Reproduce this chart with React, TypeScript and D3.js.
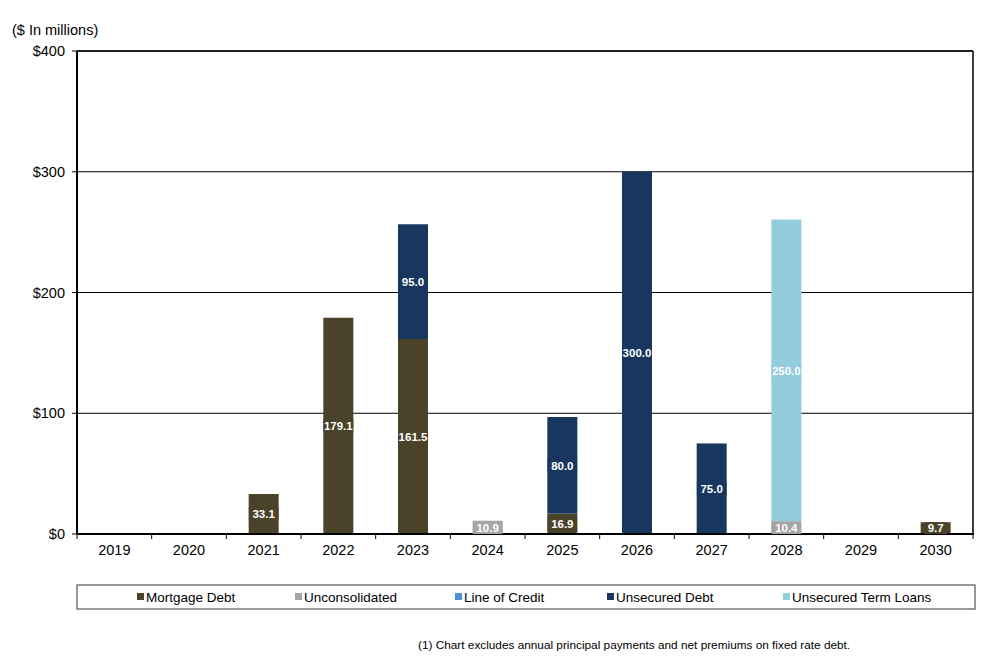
import React from "react";
import * as d3 from "d3";

const years = ["2019", "2020", "2021", "2022", "2023", "2024", "2025", "2026", "2027", "2028", "2029", "2030"];
const seriesNames = ["Mortgage Debt", "Unconsolidated", "Line of Credit", "Unsecured Debt", "Unsecured Term Loans"];
const seriesColors = ["#4a4229", "#a5a5a5", "#4f8fd6", "#17375e", "#93cddd"];
const mortgageDebt = [0, 0, 33.1, 179.1, 161.5, 0, 16.9, 0, 0, 0, 0, 9.7];
const unconsolidated = [0, 0, 0, 0, 0, 10.9, 0, 0, 0, 10.4, 0, 0];
const lineOfCredit = [0, 0, 0, 0, 0, 0, 0, 0, 0, 0, 0, 0];
const unsecuredDebt = [0, 0, 0, 0, 95.0, 0, 80.0, 300.0, 75.0, 0, 0, 0];
const unsecuredTermLoans = [0, 0, 0, 0, 0, 0, 0, 0, 0, 250.0, 0, 0];
const yTicks = [0, 100, 200, 300, 400];
const yTickLabels = ["$0", "$100", "$200", "$300", "$400"];

const W = 988, H = 660;
const left = 77, right = 973, top = 51, bottom = 534;
const font = "'Liberation Sans', Arial, sans-serif";

export default function App() {
  const series = [mortgageDebt, unconsolidated, lineOfCredit, unsecuredDebt, unsecuredTermLoans];
  const x = d3.scaleBand<string>().domain(years).range([left, right]).paddingInner(0).paddingOuter(0);
  const y = d3.scaleLinear().domain([0, 400]).range([bottom, top]);
  const barW = 30;
  const segs: any[] = [];
  years.forEach((yr, i) => {
    let base = 0;
    series.forEach((s, si) => {
      const v = s[i];
      if (v > 0) {
        segs.push({ yr, si, y0: base, y1: base + v, v });
        base += v;
      }
    });
  });
  const legendX = [137, 295, 455, 607, 783];
  return (
    <svg width={W} height={H} style={{ position: "absolute", left: 0, top: 0, background: "#fff" }} fontFamily={font}>
      <rect x={0} y={0} width={W} height={H} fill="#fff" />
      <text x={12} y={35} fontSize={14.5} fill="#000">($ In millions)</text>
      {/* gridlines */}
      {yTicks.slice(1).map((t) => (
        <line key={t} x1={left} x2={right} y1={y(t)} y2={y(t)} stroke="#000" strokeWidth={1} />
      ))}
      {/* bars */}
      {segs.map((s, k) => (
        <rect key={k} x={x(s.yr)! + x.bandwidth() / 2 - barW / 2} y={y(s.y1)} width={barW}
          height={y(s.y0) - y(s.y1)} fill={seriesColors[s.si]} />
      ))}
      {/* frame */}
      <line x1={right} x2={right} y1={top} y2={bottom} stroke="#000" strokeWidth={1.5} />
      <line x1={left} x2={right} y1={top} y2={top} stroke="#000" strokeWidth={1.5} />
      <line x1={left} x2={left} y1={top} y2={bottom} stroke="#000" strokeWidth={2} />
      <line x1={left} x2={right + 1} y1={bottom} y2={bottom} stroke="#000" strokeWidth={2} />
      {/* y ticks */}
      {yTicks.map((t, i) => (
        <g key={t}>
          <line x1={left - 5} x2={left} y1={y(t)} y2={y(t)} stroke="#000" />
          <text x={65} y={y(t) + 5} fontSize={14.5} textAnchor="end" fill="#000">{yTickLabels[i]}</text>
        </g>
      ))}
      {/* x ticks */}
      {years.map((yr, i) => (
        <g key={yr}>
          <line x1={x(yr)!} x2={x(yr)!} y1={bottom} y2={bottom + 5} stroke="#000" />
          <text x={x(yr)! + x.bandwidth() / 2} y={bottom + 21} fontSize={14.5} textAnchor="middle" fill="#000">{yr}</text>
        </g>
      ))}
      <line x1={right} x2={right} y1={bottom} y2={bottom + 5} stroke="#000" />
      {/* labels */}
      {segs.map((s, k) => {
        const cx = x(s.yr)! + x.bandwidth() / 2;
        const cy = (y(s.y0) + y(s.y1)) / 2;
        const txt = s.v.toFixed(1);
        const tw = Math.min(txt.length * 6.4 + 4, barW);
        const segH = y(s.y0) - y(s.y1);
        const bh = Math.min(14, segH);
        return (
          <g key={"l" + k}>
            <rect x={cx - tw / 2} y={cy - bh / 2} width={tw} height={bh} fill={seriesColors[s.si]} />
            <text x={cx} y={cy + 4.3} fontSize={11.5} fontWeight="bold" fill="#fff" textAnchor="middle">{txt}</text>
          </g>
        );
      })}
      {/* legend */}
      <rect x={77} y={585} width={898} height={24} fill="#fff" stroke="#555" strokeWidth={1.2} />
      {seriesNames.map((n, i) => (
        <g key={n}>
          <rect x={legendX[i]} y={593} width={7} height={7} fill={seriesColors[i]} />
          <text x={legendX[i] + 9} y={602} fontSize={13.5} fill="#000">{n}</text>
        </g>
      ))}
      <text x={418} y={649} fontSize={11.8} fill="#000">(1) Chart excludes annual principal payments and net premiums on fixed rate debt.</text>
    </svg>
  );
}
